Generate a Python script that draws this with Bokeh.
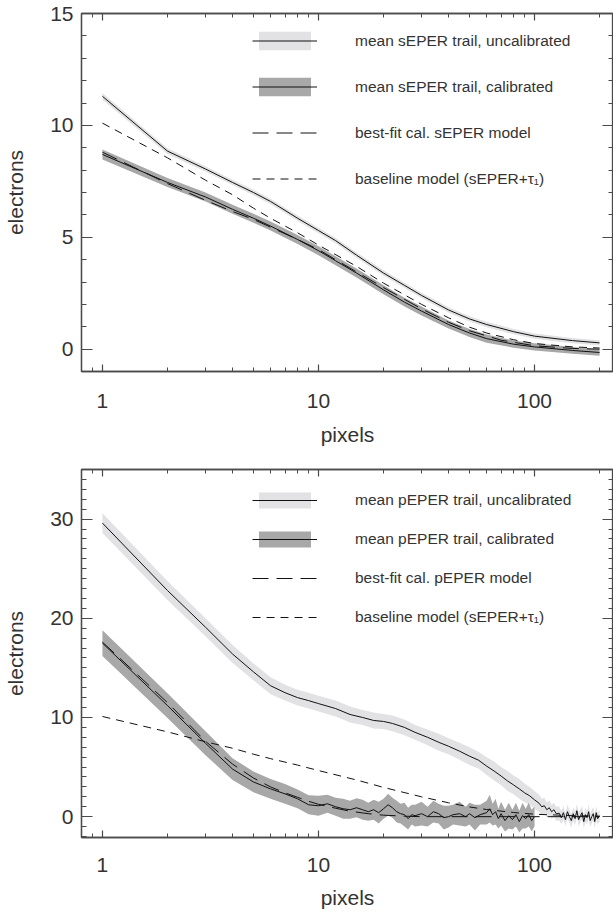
import numpy as np
from bokeh.plotting import figure
from bokeh.models import (Range1d, FixedTicker, LinearAxis, LogAxis, Legend, LegendItem,
                          PrintfTickFormatter)
from bokeh.layouts import column
from bokeh.embed import file_html
from bokeh.resources import INLINE

# ---------------- data: top panel (sEPER) ----------------
s_unc_x = [1, 2, 3, 4, 5, 6, 7, 8, 10, 12, 15, 20, 25, 30, 40, 50, 60, 80, 100, 150, 200]
s_unc_y = [11.3, 8.85, 8.05, 7.45, 7.0, 6.6, 6.2, 5.85, 5.3, 4.85, 4.2, 3.4, 2.85, 2.4, 1.75,
           1.35, 1.1, 0.78, 0.58, 0.38, 0.28]
s_unc_err = [0.15, 0.13, 0.12, 0.12, 0.12, 0.12, 0.12, 0.12, 0.12, 0.12, 0.12, 0.12, 0.12,
             0.12, 0.12, 0.12, 0.12, 0.12, 0.12, 0.12, 0.12]

s_cal_x = [1, 2, 3, 4, 5, 6, 8, 10, 12, 15, 20, 25, 30, 40, 50, 60, 80, 100, 150, 200]
s_cal_y = [8.7, 7.45, 6.8, 6.25, 5.85, 5.5, 4.9, 4.4, 3.95, 3.4, 2.65, 2.1, 1.7, 1.1, 0.72,
           0.47, 0.22, 0.1, -0.06, -0.15]
s_cal_err = [0.22, 0.2, 0.2, 0.2, 0.2, 0.2, 0.2, 0.2, 0.2, 0.2, 0.2, 0.2, 0.2, 0.18, 0.18,
             0.18, 0.16, 0.16, 0.15, 0.15]

s_fit_x = [1, 2, 3, 4, 5, 6, 8, 10, 15, 20, 30, 40, 50, 70, 100, 150, 200]
s_fit_y = [8.8, 7.4, 6.65, 6.15, 5.8, 5.45, 4.9, 4.45, 3.45, 2.75, 1.8, 1.2, 0.82, 0.4, 0.15,
           0.03, 0.0]

base_x = [1, 2, 3, 4, 5, 6, 8, 10, 15, 20, 30, 40, 50, 60, 80, 100, 150, 200]
base_y = [10.1, 8.55, 7.55, 6.9, 6.3, 5.85, 5.2, 4.65, 3.7, 2.95, 2.0, 1.4, 0.98, 0.72, 0.42,
          0.25, 0.1, 0.05]

# ---------------- data: bottom panel (pEPER) ----------------
p_unc_x = [1, 2, 3, 4, 5, 6, 7, 8, 9, 10,
           12, 14, 16, 18, 20, 22,
           25, 28, 32, 36, 40, 45, 50, 55, 60, 65, 70, 75, 80, 85, 90, 95, 100,
           105, 108, 111, 114, 117, 120, 123, 126,
           130, 133, 136, 139, 142, 145, 148, 151, 154, 157, 160, 163, 166, 169, 172, 175,
           178, 181, 184, 187, 190, 193, 196, 200]
p_unc_y = [29.6, 22.8, 19.1, 16.4, 14.6, 13.2, 12.5, 12.0, 11.7, 11.4,
           10.9, 10.3, 10.0, 9.7, 9.6, 9.4,
           9.0, 8.5, 8.0, 7.5, 7.1, 6.6, 6.1, 5.7, 5.1, 4.6, 4.1, 3.6, 3.2, 2.8, 2.4, 2.1, 1.7,
           1.35, 1.0, 1.1, 0.7, 0.9, 0.5, 0.7, 0.3,
           0.35, -0.1, 0.4, -0.3, 0.5, 0.0, -0.4, 0.3, -0.2, 0.6, -0.3, 0.1, 0.4, -0.5, 0.2,
           -0.1, 0.5, -0.4, 0.0, 0.3, -0.5, 0.4, -0.2, 0.1]
p_unc_err = [1.0, 0.95, 0.9, 0.9, 0.85, 0.85, 0.8, 0.8, 0.8, 0.8,
             0.8, 0.8, 0.75, 0.8, 0.75, 0.8,
             0.8, 0.75, 0.8, 0.85, 0.8, 0.85, 0.9, 0.85, 0.9, 0.95, 0.9, 1.0, 0.95, 1.0, 0.95,
             0.9, 0.9,
             0.85, 0.8, 0.8, 0.75, 0.75, 0.7, 0.7, 0.7,
             0.7, 0.65, 0.7, 0.65, 0.7, 0.65, 0.7, 0.65, 0.7, 0.65, 0.7, 0.65, 0.7, 0.65, 0.7,
             0.65, 0.7, 0.65, 0.7, 0.65, 0.7, 0.65, 0.6, 0.6]

p_cal_x = [1, 2, 3, 4, 5, 6, 7, 8, 9, 10, 11, 12, 13, 14, 15, 16, 17, 18, 19, 20,
           21, 22, 23, 24, 25, 26, 27, 28, 30, 32, 34, 36, 38, 40, 42, 45, 48, 50, 53, 56,
           60, 62, 64, 66, 68, 70, 73, 76, 79, 82, 85, 88, 91, 94, 97, 100]
p_cal_y = [17.5, 11.2, 7.4, 4.8, 3.5, 2.8, 2.3, 1.8, 1.2, 1.1, 1.3, 1.0, 0.8, 0.7, 0.9, 0.7,
           0.5, 0.7, 0.4, 0.8,
           1.2, 0.9, 0.5, 0.3, 0.2, -0.2, 0.2, 0.1, 0.3, 0.0, 0.5, 0.3, -0.1, 0.0, 0.2, 0.3,
           0.0, 0.3, -0.1, 0.2,
           0.4, 0.8, 0.2, 0.5, -0.2, 0.3, -0.4, 0.1, -0.3, 0.2, -0.5, 0.1, -0.2, 0.2, -0.4, 0.0]
p_cal_err = [1.3, 1.25, 1.2, 1.1, 1.05, 1.0, 1.0, 0.95, 0.95, 1.0, 0.9, 0.9, 1.0, 0.9, 0.95,
             1.0, 0.9, 1.0, 1.1, 1.0,
             1.1, 1.0, 1.1, 1.0, 1.2, 1.1, 1.0, 1.1, 1.2, 1.0, 1.1, 1.0, 1.2, 1.1, 1.0, 1.2,
             1.0, 1.1, 1.3, 1.0,
             1.2, 1.4, 1.1, 1.3, 1.0, 1.2, 1.1, 1.3, 1.0, 1.2, 1.1, 1.3, 1.0, 1.2, 1.1, 1.0]

p_fit_x = [1, 2, 3, 4, 5, 6, 7, 8, 9, 10, 12, 14, 17, 20, 25, 30, 50, 100, 200]
p_fit_y = [17.6, 11.5, 7.6, 5.3, 3.9, 3.0, 2.4, 1.95, 1.55, 1.25, 0.85, 0.55, 0.3, 0.15,
           0.05, 0.0, 0.0, 0.0, 0.0]

# ---------------- ticks and labels ----------------
x_major_ticks = [1, 10, 100]
x_minor_ticks = [0.8, 0.9, 2, 3, 4, 5, 6, 7, 8, 9, 20, 30, 40, 50, 60, 70, 80, 90, 200]
top_y_major = [0, 5, 10, 15]
top_y_minor = [v for v in range(-1, 16) if v % 5]
bot_y_major = [0, 10, 20, 30]
bot_y_minor = [v for v in range(-2, 36) if v % 10]

top_labels = ["mean sEPER trail, uncalibrated", "mean sEPER trail, calibrated",
              "best-fit cal. sEPER model", "baseline model (sEPER+\u03c4\u2081)"]
bot_labels = ["mean pEPER trail, uncalibrated", "mean pEPER trail, calibrated",
              "best-fit cal. pEPER model", "baseline model (sEPER+\u03c4\u2081)"]

FONT = "Liberation Sans"
TXT = "#333333"
AX = "#4a4a4a"
LIGHT = "#e2e2e4"
DARK = "#a8a8a8"
LINE = "#111111"


def style_axis(ax, yaxis, show_labels):
    ax.axis_line_color = AX
    ax.axis_line_width = 1.3
    ax.major_tick_line_color = AX
    ax.minor_tick_line_color = AX
    ax.major_tick_line_width = 1.2
    ax.minor_tick_line_width = 1.0
    ax.major_tick_out = 0
    ax.minor_tick_out = 0
    if yaxis:
        ax.major_tick_in = 11
        ax.minor_tick_in = 5
    else:
        ax.major_tick_in = 7
        ax.minor_tick_in = 4
    ax.major_label_text_font = FONT
    ax.major_label_text_color = TXT
    ax.axis_label_text_font = FONT
    ax.axis_label_text_color = TXT
    ax.axis_label_text_font_style = "normal"
    ax.axis_label_text_font_size = "21px"
    if show_labels:
        ax.major_label_text_font_size = "21px"
    else:
        ax.major_label_text_font_size = "1px"
        ax.major_label_text_alpha = 0
        ax.major_label_standoff = 0


def make_panel(yr, ymaj, ymin, height, btop, bbot, xstand, xlstand, unc, cal, fit,
               labels, glyph_h, spacing, leg_y):
    p = figure(width=613, height=height, x_axis_type="log",
               x_range=Range1d(0.8, 232), y_range=Range1d(*yr),
               output_backend="svg", toolbar_location=None,
               min_border_left=81, min_border_right=0,
               min_border_top=btop, min_border_bottom=bbot,
               y_axis_location=None, x_axis_location=None)
    p.xgrid.visible = False
    p.ygrid.visible = False
    p.outline_line_color = AX
    p.outline_line_width = 1.3
    p.background_fill_color = "white"

    xt = FixedTicker(ticks=x_major_ticks, minor_ticks=x_minor_ticks)
    yt = FixedTicker(ticks=ymaj, minor_ticks=ymin)

    bottom = LogAxis(ticker=xt, formatter=PrintfTickFormatter(format="%d"),
                     axis_label="pixels")
    style_axis(bottom, False, True)
    bottom.major_label_standoff = xstand
    bottom.axis_label_standoff = xlstand
    p.add_layout(bottom, "below")

    top = LogAxis(ticker=xt)
    style_axis(top, False, False)
    p.add_layout(top, "above")

    left = LinearAxis(ticker=yt, axis_label="electrons")
    style_axis(left, True, True)
    left.major_label_standoff = 8
    left.axis_label_standoff = 20
    p.add_layout(left, "left")

    right = LinearAxis(ticker=yt)
    style_axis(right, True, False)
    p.add_layout(right, "right")

    ux, uy, ue = np.array(unc[0], float), np.array(unc[1]), np.array(unc[2])
    cx, cy, ce = np.array(cal[0], float), np.array(cal[1]), np.array(cal[2])
    r_ub = p.varea(x=ux, y1=uy - ue, y2=uy + ue, fill_color=LIGHT)
    r_cb = p.varea(x=cx, y1=cy - ce, y2=cy + ce, fill_color=DARK)
    r_fit = p.line(fit[0], fit[1], line_color=LINE, line_width=1.0, line_dash="16 8")
    r_base = p.line(base_x, base_y, line_color=LINE, line_width=1.0, line_dash="8 6")
    r_ul = p.line(ux, uy, line_color=LINE, line_width=1.0)
    r_cl = p.line(cx, cy, line_color=LINE, line_width=1.0)

    legend = Legend(items=[
        LegendItem(label=labels[0], renderers=[r_ub, r_ul]),
        LegendItem(label=labels[1], renderers=[r_cb, r_cl]),
        LegendItem(label=labels[2], renderers=[r_fit]),
        LegendItem(label=labels[3], renderers=[r_base]),
    ])
    legend.location = (171, leg_y)
    legend.glyph_width = 65
    legend.glyph_height = glyph_h
    legend.label_height = glyph_h
    legend.spacing = spacing
    legend.label_standoff = 38
    legend.padding = 0
    legend.margin = 0
    legend.border_line_color = None
    legend.background_fill_alpha = 0
    legend.label_text_font = FONT
    legend.label_text_font_size = "15.5px"
    legend.label_text_color = TXT
    p.add_layout(legend)
    return p


# top border just large enough that the "15" tick label is not cut by the page edge
p1 = make_panel((-1, 15), top_y_major, top_y_minor, 448, 13, 74, 22, 12,
                (s_unc_x, s_unc_y, s_unc_err), (s_cal_x, s_cal_y, s_cal_err),
                (s_fit_x, s_fit_y), top_labels, 23, 23, 181)

p2 = make_panel((-2.1, 35), bot_y_major, bot_y_minor, 465, 21, 76, 20, 11,
                (p_unc_x, p_unc_y, p_unc_err), (p_cal_x, p_cal_y, p_cal_err),
                (p_fit_x, p_fit_y), bot_labels, 20, 19, 210)

layout = column(p1, p2, spacing=0)
open("out.html", "w").write(file_html(layout, INLINE))
